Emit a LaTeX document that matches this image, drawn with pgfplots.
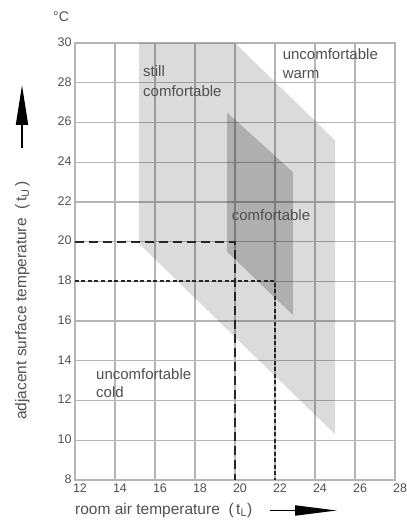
\documentclass[border=0pt]{standalone}
\usepackage{pgfplots}
\pgfplotsset{compat=1.18}
\usepackage{fontspec}
\setmainfont{Liberation Sans}
\usetikzlibrary{arrows.meta}
\definecolor{txt}{HTML}{505050}
\definecolor{gridc}{HTML}{B5B5B5}
\begin{document}
\begin{tikzpicture}[x=1pt,y=1pt]
\path[use as bounding box] (-75,-40) rectangle (332,480);
\begin{axis}[at={(0,0)}, anchor=south west, scale only axis,
  width=320pt, height=437pt,
  xmin=12, xmax=28, ymin=8, ymax=30,
  xtick={12,14,...,28}, ytick={8,10,...,30},
  grid=major, major grid style={gridc, line width=1.3pt},
  axis line style={gridc, line width=1.3pt},
  tick style={draw=none},
  ticklabel style={font=\fontsize{12.5}{12.5}\selectfont, text=txt},
  xticklabel style={xshift=5pt},
  yticklabel style={yshift=1pt},
  /pgf/number format/assume math mode=true,
  clip=false]
% still comfortable region (light)
\addplot[draw=none, fill=black, fill opacity=0.14]
  coordinates {(15.2,30) (20,30) (25,25.1) (25,10.3) (15.2,19.9)} -- cycle;
% comfortable region (dark)
\addplot[draw=none, fill=black, fill opacity=0.2]
  coordinates {(19.6,26.5) (22.9,23.5) (22.9,16.3) (19.6,19.5)} -- cycle;
% dashed guide lines
\addplot[black!85, line width=1.9pt, dash pattern=on 9pt off 5pt]
  coordinates {(12,20) (20,20) (20,8)};
\addplot[black!85, line width=1.9pt, dash pattern=on 4pt off 2.5pt]
  coordinates {(12,18) (22,18) (22,8)};
% region labels
\begin{scope}[every node/.style={anchor=base west, inner sep=0pt, text=txt, font=\fontsize{15}{15}\selectfont}]
\node at (axis cs:15.4,28.3) {still};
\node at (axis cs:15.4,27.3) {comfortable};
\node at (axis cs:22.38,29.15) {uncomfortable};
\node at (axis cs:22.38,28.2) {warm};
\node at (axis cs:19.83,21.05) {comfortable};
\node at (axis cs:13.05,13.08) {uncomfortable};
\node at (axis cs:13.05,12.16) {cold};
\end{scope}
\end{axis}
% unit
\node[anchor=base west, inner sep=0pt, text=txt, font=\fontsize{14}{14}\selectfont] at (-22,458) {°C};
% x label and arrow
\node[anchor=base west, inner sep=0pt, text=txt, font=\fontsize{15.5}{15.5}\selectfont] at (0,-34) {room air temperature \ (\,t\textsubscript{L})};
\draw[line width=1.8pt, -{Triangle[length=42pt, width=10pt]}] (195,-30.5) -- (262,-30.5);
% y label and arrow
\node[rotate=90, anchor=base west, inner sep=0pt, text=txt, font=\fontsize{15.5}{15.5}\selectfont] at (-48.5,60) {adjacent surface temperature \ (\,t\textsubscript{U}\,)};
\draw[line width=1.8pt, -{Triangle[length=40pt, width=12pt]}] (-53,332) -- (-53,395);
\end{tikzpicture}
\end{document}
